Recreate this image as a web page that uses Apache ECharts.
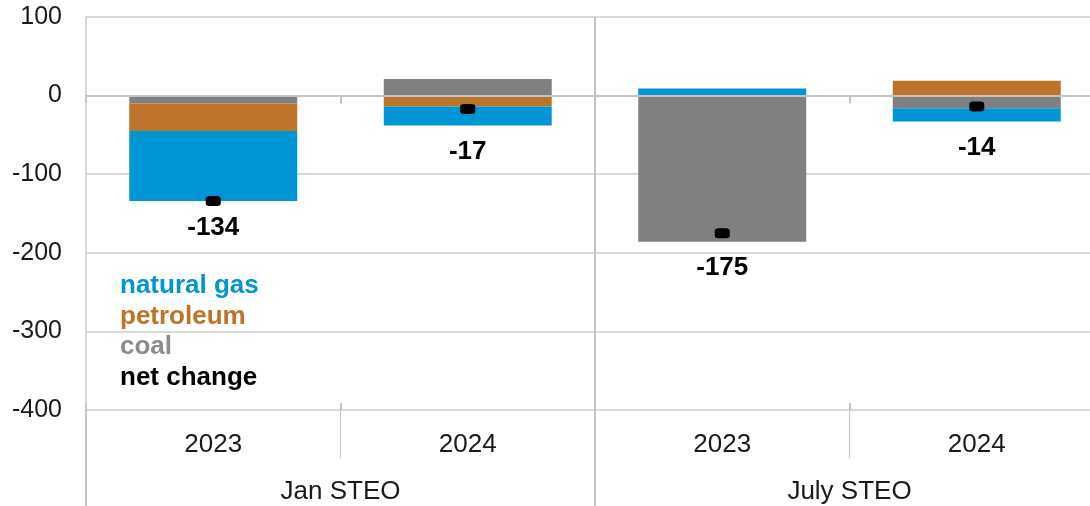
<!DOCTYPE html>
<html>
<head>
<meta charset="utf-8">
<script src="https://cdn.jsdelivr.net/npm/echarts@6/dist/echarts.min.js"></script>
<style>html,body{margin:0;padding:0;background:#fff;}#c{width:1090px;height:506px;}</style>
</head>
<body>
<div id="c"></div>
<script>
const years = ['2023', '2024', '2023', '2024'];
const groups = ['Jan STEO', 'July STEO'];
const coal = [-10, 21, -186, -16];
const petroleum = [-35, -14, 0, 19];
const naturalGas = [-89, -24, 9, -17];
const netChange = [-134, -17, -175, -14];
const yTicks = { min: -400, max: 100, interval: 100 };

const negBottom = years.map((_, i) =>
  [coal[i], petroleum[i], naturalGas[i]].filter(v => v < 0).reduce((a, b) => a + b, 0));

const FONT = '"Liberation Sans", Arial, sans-serif';
const chart = echarts.init(document.getElementById('c'));
chart.setOption({
  animation: false,
  grid: { left: 86, top: 17, width: 1018, height: 393, containLabel: false, outerBoundsMode: 'none' },
  legend: {
    orient: 'vertical', left: 115, top: 271, itemGap: 0, itemWidth: 0, itemHeight: 0,
    icon: 'none', selectedMode: false, padding: 0,
    textStyle: { fontFamily: FONT, fontSize: 26, fontWeight: 'bold', lineHeight: 30.5 },
    data: [
      { name: 'natural gas', textStyle: { color: '#0096D6' } },
      { name: 'petroleum', textStyle: { color: '#BD732A' } },
      { name: 'coal', textStyle: { color: '#8C8C8C' } },
      { name: 'net change', textStyle: { color: '#000000' } }
    ]
  },
  xAxis: [
    { // zero line with crossing ticks (down)
      type: 'category', data: years, position: 'bottom', z: 5,
      axisLine: { show: true, onZero: true, lineStyle: { color: '#c4c4c4', width: 2 } },
      axisTick: { show: true, interval: 0, length: 8, lineStyle: { color: '#c4c4c4', width: 2 } },
      axisLabel: { show: false }, splitLine: { show: false }
    },
    { // bottom year axis
      type: 'category', data: years, position: 'bottom',
      axisLine: { show: true, onZero: false, lineStyle: { color: '#d9d9d9', width: 2 } },
      axisTick: { show: true, interval: 0, length: 48, lineStyle: { color: '#c4c4c4', width: 1 } },
      axisLabel: { show: true, interval: 0, margin: 22, fontFamily: FONT, fontSize: 26, color: '#1a1a1a' },
      splitLine: { show: false }
    },
    { // group axis
      type: 'category', data: groups, position: 'bottom',
      axisLine: { show: false, onZero: false },
      axisTick: { show: true, interval: 0, length: 96, lineStyle: { color: '#c4c4c4', width: 2 } },
      axisLabel: { show: true, interval: 0, margin: 69, fontFamily: FONT, fontSize: 26, color: '#1a1a1a' },
      splitLine: { show: true, interval: 0, lineStyle: { color: '#c4c4c4', width: 2 } }
    },
    { // zero line inside ticks (up)
      type: 'category', data: years, position: 'bottom', z: 5,
      axisLine: { show: false, onZero: true },
      axisTick: { show: true, inside: true, interval: 0, length: 7, lineStyle: { color: '#c4c4c4', width: 2 } },
      axisLabel: { show: false }, splitLine: { show: false }
    }
  ],
  yAxis: {
    type: 'value', min: yTicks.min, max: yTicks.max, interval: yTicks.interval,
    axisLine: { show: true, lineStyle: { color: '#d9d9d9', width: 2 } },
    axisTick: { show: false },
    axisLabel: { margin: 24, fontFamily: FONT, fontSize: 25, color: '#1a1a1a' },
    splitLine: { show: true, lineStyle: { color: '#d9d9d9', width: 2 } }
  },
  series: [
    { name: 'coal', type: 'bar', stack: 'total', xAxisIndex: 1, barWidth: '66%', z: 1,
      itemStyle: { color: '#808080' }, data: coal },
    { name: 'petroleum', type: 'bar', stack: 'total', xAxisIndex: 1, z: 1,
      itemStyle: { color: '#BD732A' }, data: petroleum },
    { name: 'natural gas', type: 'bar', stack: 'total', xAxisIndex: 1, z: 1,
      itemStyle: { color: '#0096D6' }, data: naturalGas },
    { name: 'net change', type: 'scatter', xAxisIndex: 1, z: 6,
      symbol: 'roundRect', symbolSize: [15, 10], itemStyle: { color: '#000', opacity: 1 }, data: netChange },
    { name: 'labels', type: 'scatter', xAxisIndex: 1, z: 6, symbolSize: 1,
      itemStyle: { color: 'rgba(0,0,0,0)', opacity: 1 }, silent: true,
      label: { show: true, position: 'bottom', distance: 13, fontFamily: FONT, fontSize: 26,
        fontWeight: 'bold', color: '#000', opacity: 1, formatter: p => String(netChange[p.dataIndex]) },
      data: negBottom }
  ]
});
</script>
</body>
</html>
